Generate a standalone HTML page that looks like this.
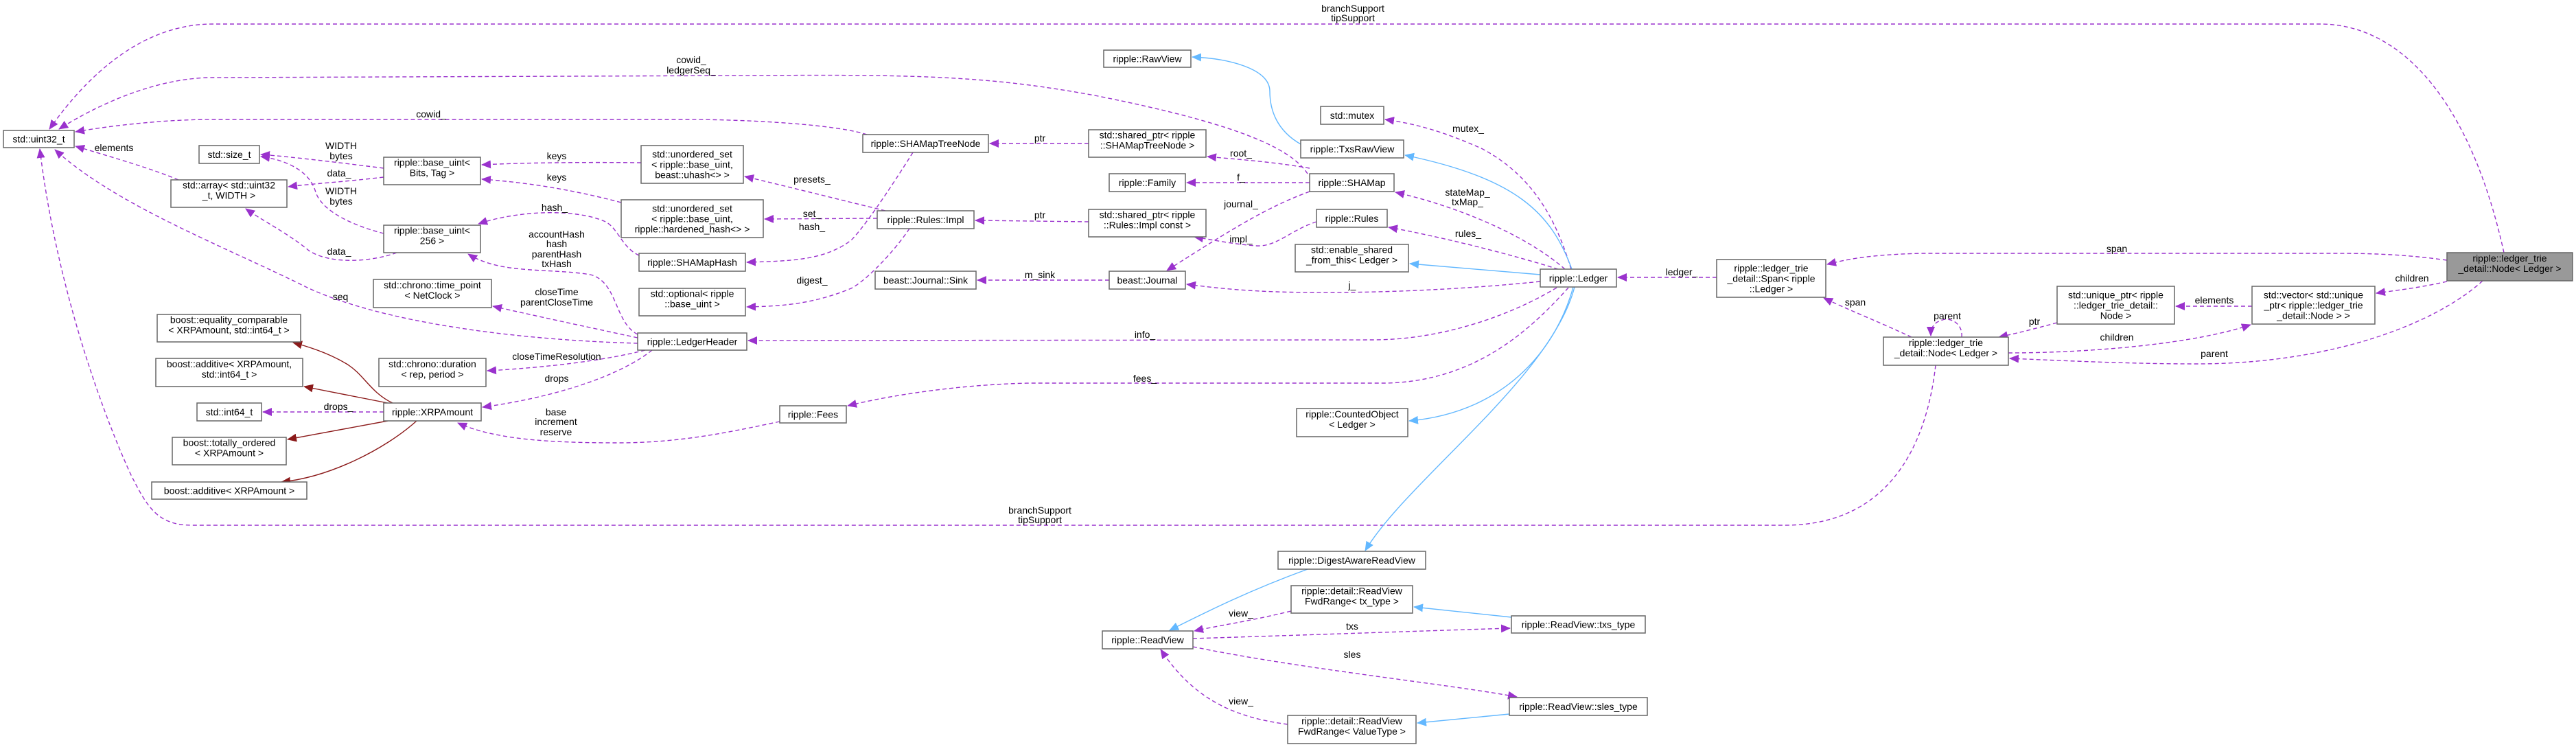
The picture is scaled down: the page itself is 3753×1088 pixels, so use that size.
<!DOCTYPE html>
<html><head><meta charset="utf-8"><style>
html,body{margin:0;padding:0;background:#fff;}
svg{display:block;}
text{font-family:"Liberation Sans",sans-serif;font-size:14px;fill:#000;text-anchor:middle;}
.n{fill:#fff;stroke:#666;stroke-width:1.5;}
.g{fill:#999;stroke:#666;stroke-width:1.5;}
.d{fill:none;stroke:#9a32cd;stroke-width:1.4;stroke-dasharray:6,4;marker-end:url(#mp);}
.b{fill:none;stroke:#63b8ff;stroke-width:1.4;marker-end:url(#mb);}
.r{fill:none;stroke:#8b1a1a;stroke-width:1.4;marker-end:url(#mr);}
</style></head><body>
<svg width="3753" height="1088" viewBox="0 0 3753 1088" xmlns="http://www.w3.org/2000/svg">
<defs>
<marker id="mp" markerUnits="userSpaceOnUse" markerWidth="14" markerHeight="12" refX="13" refY="6" orient="auto"><path d="M0,0 L14,6 L0,12 z" fill="#9a32cd"/></marker>
<marker id="mb" markerUnits="userSpaceOnUse" markerWidth="14" markerHeight="12" refX="13" refY="6" orient="auto"><path d="M0,0 L14,6 L0,12 z" fill="#63b8ff"/></marker>
<marker id="mr" markerUnits="userSpaceOnUse" markerWidth="14" markerHeight="12" refX="13" refY="6" orient="auto"><path d="M0,0 L14,6 L0,12 z" fill="#8b1a1a"/></marker>
</defs>

<!-- edges -->
<path class="d" d="M3648,368 C3600,150 3500,35 3380,35 L310,35 C200,35 120,120 72,188"/>
<path class="d" d="M1905,253 C1880,215 1800,180 1600,140 C1450,112 1350,108 1100,110 L310,113 C220,113 130,160 86,188"/>
<path class="d" d="M1263,196 C1220,182 1100,174 1000,174 L310,174 C230,174 150,185 110,192"/>
<path class="d" d="M260,262 C220,245 150,225 110,213"/>
<path class="d" d="M559,245 C480,235 420,228 380,225"/>
<path class="d" d="M559,258 C500,265 450,268 420,272"/>
<path class="d" d="M559,340 C520,330 470,310 460,280 C450,245 410,232 380,228"/>
<path class="d" d="M578,368 C540,382 480,385 450,365 C420,340 380,320 358,304"/>
<path class="d" d="M929,500 C750,495 560,470 450,420 C330,360 170,300 80,218"/>
<path class="d" d="M934,237 C850,236 760,237 702,240"/>
<path class="d" d="M905,295 C830,275 760,265 702,261"/>
<path class="d" d="M931,372 C905,360 900,330 880,322 C840,305 760,305 697,326"/>
<path class="d" d="M929,487 C895,470 900,410 860,400 C800,390 730,400 682,370"/>
<path class="d" d="M929,492 C850,475 780,460 718,446"/>
<path class="d" d="M940,510 C880,525 800,535 710,540"/>
<path class="d" d="M950,510 C900,550 800,580 703,593"/>
<path class="d" d="M1136,614 C1060,630 990,645 900,645 C800,645 720,640 667,616"/>
<path class="d" d="M559,600 L383,600"/>
<path class="d" d="M1290,307 C1200,285 1140,270 1085,257"/>
<path class="d" d="M1278,318 L1114,319"/>
<path class="d" d="M1330,222 C1300,270 1260,330 1240,350 C1200,380 1150,380 1088,382"/>
<path class="d" d="M1325,333 C1300,370 1260,410 1240,420 C1180,445 1130,446 1088,447"/>
<path class="d" d="M1586,209 L1442,209"/>
<path class="d" d="M1586,323 L1421,321"/>
<path class="d" d="M1616,408 L1424,408"/>
<path class="d" d="M1908,245 C1850,235 1800,232 1759,228"/>
<path class="d" d="M1908,266 L1729,266"/>
<path class="d" d="M1908,279 C1850,300 1800,330 1700,394"/>
<path class="d" d="M1918,323 C1880,335 1860,360 1830,358 C1800,356 1770,350 1740,345"/>
<path class="d" d="M2244,410 C2100,425 1950,428 1860,425 C1800,423 1760,418 1729,414"/>
<path class="d" d="M2268,419 C2200,460 2100,495 2000,495 L1090,496"/>
<path class="d" d="M2285,419 C2230,480 2150,555 2020,558 L1500,558 C1400,560 1300,575 1235,591"/>
<path class="d" d="M2289,392 C2270,330 2240,260 2160,217 C2100,190 2060,180 2018,174"/>
<path class="d" d="M2280,392 C2220,340 2120,300 2033,280"/>
<path class="d" d="M2270,392 C2200,370 2100,345 2023,331"/>
<path class="d" d="M1881,890 C1820,905 1770,912 1740,919"/>
<path class="d" d="M1738,930 C1900,925 2100,918 2200,915"/>
<path class="d" d="M1738,942 C1900,975 2100,995 2210,1015"/>
<path class="d" d="M1876,1055 C1800,1045 1740,1020 1691,946"/>
<path class="d" d="M2501,404 L2357,404"/>
<path class="d" d="M2785,491 C2740,470 2690,450 2657,434"/>
<path class="d" d="M3565,379 C3500,370 3450,369 3400,369 L2800,369 C2720,371 2690,378 2662,385"/>
<path class="d" d="M3565,410 C3520,420 3490,423 3462,427"/>
<path class="d" d="M3281,446 L3170,446"/>
<path class="d" d="M2997,470 C2960,480 2940,485 2912,491"/>
<path class="d" d="M2926,514 C3050,514 3200,500 3279,473"/>
<path class="d" d="M3617,409 C3550,470 3400,530 3200,530 C3100,530 3000,525 2928,522"/>
<path class="d" d="M2858,491 C2860,470 2840,462 2830,466 C2815,470 2813,480 2813,489"/>
<path class="d" d="M2820,532 C2810,620 2770,765 2600,765 L280,765 C230,765 215,740 190,690 C140,580 80,400 58,217"/>

<path class="b" d="M2290,392 C2260,310 2210,260 2047,226"/>
<path class="b" d="M2244,400 L2054,384"/>
<path class="b" d="M2292,418 C2270,500 2200,600 2053,613"/>
<path class="b" d="M2294,418 C2260,550 2050,700 1989,802"/>
<path class="b" d="M1895,210 C1860,190 1850,160 1850,133 C1850,100 1790,85 1737,83"/>
<path class="b" d="M1905,829 C1820,860 1760,890 1704,918"/>
<path class="b" d="M2202,899 L2060,884"/>
<path class="b" d="M2199,1040 L2065,1053"/>

<path class="r" d="M572,587 C540,572 530,545 505,530 C480,515 450,505 427,499"/>
<path class="r" d="M565,587 L443,563"/>
<path class="r" d="M565,613 L419,640"/>
<path class="r" d="M607,613 C560,655 480,695 410,702"/>

<!-- edge labels -->
<text x="1971" y="17">branchSupport</text><text x="1971" y="31">tipSupport</text>
<text x="1007" y="92">cowid_</text><text x="1007" y="107">ledgerSeq_</text>
<text x="628" y="171">cowid_</text>
<text x="166" y="220">elements</text>
<text x="497" y="217">WIDTH</text><text x="497" y="232">bytes</text>
<text x="494" y="257">data_</text>
<text x="497" y="283">WIDTH</text><text x="497" y="298">bytes</text>
<text x="494" y="371">data_</text>
<text x="496" y="437">seq</text>
<text x="811" y="232">keys</text>
<text x="811" y="263">keys</text>
<text x="808" y="307">hash_</text>
<text x="811" y="346">accountHash</text><text x="811" y="360">hash</text><text x="811" y="375">parentHash</text><text x="811" y="389">txHash</text>
<text x="811" y="430">closeTime</text><text x="811" y="445">parentCloseTime</text>
<text x="811" y="524">closeTimeResolution</text>
<text x="811" y="556">drops</text>
<text x="810" y="605">base</text><text x="810" y="619">increment</text><text x="810" y="634">reserve</text>
<text x="493" y="597">drops_</text>
<text x="1183" y="266">presets_</text>
<text x="1183" y="316">set_</text>
<text x="1183" y="335">hash_</text>
<text x="1183" y="413">digest_</text>
<text x="1515" y="206">ptr</text>
<text x="1515" y="318">ptr</text>
<text x="1515" y="405">m_sink</text>
<text x="1808" y="228">root_</text>
<text x="1808" y="263">f_</text>
<text x="1808" y="302">journal_</text>
<text x="1808" y="353">impl_</text>
<text x="1970" y="420">j_</text>
<text x="1668" y="492">info_</text>
<text x="1668" y="556">fees_</text>
<text x="2139" y="192">mutex_</text>
<text x="2138" y="285">stateMap_</text><text x="2138" y="299">txMap_</text>
<text x="2139" y="345">rules_</text>
<text x="1808" y="898">view_</text>
<text x="1970" y="917">txs</text>
<text x="1970" y="958">sles</text>
<text x="1808" y="1026">view_</text>
<text x="2450" y="401">ledger_</text>
<text x="2703" y="445">span</text>
<text x="3084" y="367">span</text>
<text x="3514" y="410">children</text>
<text x="3226" y="442">elements</text>
<text x="2964" y="473">ptr</text>
<text x="3084" y="496">children</text>
<text x="3226" y="520">parent</text>
<text x="2837" y="465">parent</text>
<text x="1515" y="748">branchSupport</text><text x="1515" y="762">tipSupport</text>

<!-- nodes -->
<rect class="n" x="5" y="190" width="103" height="25"/><text x="56.5" y="207.5">std::uint32_t</text>
<rect class="n" x="290" y="212" width="88" height="26"/><text x="334" y="230">std::size_t</text>
<rect class="n" x="559" y="229" width="141" height="40"/><text x="629.5" y="241.5">ripple::base_uint&lt;</text><text x="629.5" y="256.5">Bits, Tag &gt;</text>
<rect class="n" x="249" y="262" width="169" height="40"/><text x="333.5" y="274.5">std::array&lt; std::uint32</text><text x="333.5" y="289.5">_t, WIDTH &gt;</text>
<rect class="n" x="559" y="328" width="141" height="40"/><text x="629.5" y="340.5">ripple::base_uint&lt;</text><text x="629.5" y="355.5">256 &gt;</text>
<rect class="n" x="544" y="407" width="172" height="41"/><text x="630" y="420">std::chrono::time_point</text><text x="630" y="435">&lt; NetClock &gt;</text>
<rect class="n" x="229" y="458" width="209" height="40"/><text x="333.5" y="470.5">boost::equality_comparable</text><text x="333.5" y="485.5">&lt; XRPAmount, std::int64_t &gt;</text>
<rect class="n" x="227" y="522" width="214" height="41"/><text x="334" y="535">boost::additive&lt; XRPAmount,</text><text x="334" y="550">std::int64_t &gt;</text>
<rect class="n" x="552" y="522" width="156" height="41"/><text x="630" y="535">std::chrono::duration</text><text x="630" y="550">&lt; rep, period &gt;</text>
<rect class="n" x="287" y="587" width="94" height="26"/><text x="334" y="605">std::int64_t</text>
<rect class="n" x="559" y="587" width="142" height="26"/><text x="630" y="605">ripple::XRPAmount</text>
<rect class="n" x="251" y="637" width="166" height="40"/><text x="334" y="649.5">boost::totally_ordered</text><text x="334" y="664.5">&lt; XRPAmount &gt;</text>
<rect class="n" x="221" y="702" width="226" height="25"/><text x="334" y="719.5">boost::additive&lt; XRPAmount &gt;</text>
<rect class="n" x="1608" y="73" width="127" height="25"/><text x="1671.5" y="90.5">ripple::RawView</text>
<rect class="n" x="1257" y="196" width="183" height="26"/><text x="1348.5" y="214">ripple::SHAMapTreeNode</text>
<rect class="n" x="1586" y="189" width="171" height="40"/><text x="1671.5" y="201.5">std::shared_ptr&lt; ripple</text><text x="1671.5" y="216.5">::SHAMapTreeNode &gt;</text>
<rect class="n" x="934" y="212" width="149" height="55"/><text x="1008.5" y="229.5">std::unordered_set</text><text x="1008.5" y="244.5">&lt; ripple::base_uint,</text><text x="1008.5" y="259.5">beast::uhash&lt;&gt; &gt;</text>
<rect class="n" x="1616" y="253" width="111" height="26"/><text x="1671.5" y="271">ripple::Family</text>
<rect class="n" x="905" y="291" width="207" height="55"/><text x="1008.5" y="308.5">std::unordered_set</text><text x="1008.5" y="323.5">&lt; ripple::base_uint,</text><text x="1008.5" y="338.5">ripple::hardened_hash&lt;&gt; &gt;</text>
<rect class="n" x="1278" y="307" width="141" height="26"/><text x="1348.5" y="325">ripple::Rules::Impl</text>
<rect class="n" x="1586" y="305" width="171" height="40"/><text x="1671.5" y="317.5">std::shared_ptr&lt; ripple</text><text x="1671.5" y="332.5">::Rules::Impl const &gt;</text>
<rect class="n" x="931" y="369" width="155" height="26"/><text x="1008.5" y="387">ripple::SHAMapHash</text>
<rect class="n" x="1275" y="395" width="147" height="26"/><text x="1348.5" y="413">beast::Journal::Sink</text>
<rect class="n" x="1616" y="395" width="111" height="26"/><text x="1671.5" y="413">beast::Journal</text>
<rect class="n" x="931" y="420" width="155" height="40"/><text x="1008.5" y="432.5">std::optional&lt; ripple</text><text x="1008.5" y="447.5">::base_uint &gt;</text>
<rect class="n" x="929" y="485" width="159" height="25"/><text x="1008.5" y="502.5">ripple::LedgerHeader</text>
<rect class="n" x="1136" y="591" width="97" height="25"/><text x="1184.5" y="608.5">ripple::Fees</text>
<rect class="n" x="1606" y="919" width="132" height="26"/><text x="1672" y="937">ripple::ReadView</text>
<rect class="n" x="1924" y="155" width="92" height="26"/><text x="1970" y="173">std::mutex</text>
<rect class="n" x="1895" y="204" width="150" height="26"/><text x="1970" y="222">ripple::TxsRawView</text>
<rect class="n" x="1908" y="253" width="123" height="26"/><text x="1969.5" y="271">ripple::SHAMap</text>
<rect class="n" x="1918" y="305" width="103" height="26"/><text x="1969.5" y="323">ripple::Rules</text>
<rect class="n" x="1887" y="356" width="165" height="40"/><text x="1969.5" y="368.5">std::enable_shared</text><text x="1969.5" y="383.5">_from_this&lt; Ledger &gt;</text>
<rect class="n" x="2244" y="392" width="111" height="26"/><text x="2299.5" y="410">ripple::Ledger</text>
<rect class="n" x="2501" y="378" width="159" height="55"/><text x="2580.5" y="395.5">ripple::ledger_trie</text><text x="2580.5" y="410.5">_detail::Span&lt; ripple</text><text x="2580.5" y="425.5">::Ledger &gt;</text>
<rect class="n" x="2744" y="491" width="182" height="41"/><text x="2835" y="504">ripple::ledger_trie</text><text x="2835" y="519">_detail::Node&lt; Ledger &gt;</text>
<rect class="n" x="1889" y="595" width="162" height="41"/><text x="1970" y="608">ripple::CountedObject</text><text x="1970" y="623">&lt; Ledger &gt;</text>
<rect class="n" x="1862" y="803" width="215" height="26"/><text x="1969.5" y="821">ripple::DigestAwareReadView</text>
<rect class="n" x="1881" y="853" width="177" height="40"/><text x="1969.5" y="865.5">ripple::detail::ReadView</text><text x="1969.5" y="880.5">FwdRange&lt; tx_type &gt;</text>
<rect class="n" x="2202" y="897" width="195" height="25"/><text x="2299.5" y="914.5">ripple::ReadView::txs_type</text>
<rect class="n" x="2199" y="1016" width="201" height="26"/><text x="2299.5" y="1034">ripple::ReadView::sles_type</text>
<rect class="n" x="1876" y="1042" width="187" height="41"/><text x="1969.5" y="1055">ripple::detail::ReadView</text><text x="1969.5" y="1070">FwdRange&lt; ValueType &gt;</text>
<rect class="g" x="3565" y="368" width="183" height="41"/><text x="3656.5" y="381">ripple::ledger_trie</text><text x="3656.5" y="396">_detail::Node&lt; Ledger &gt;</text>
<rect class="n" x="2997" y="417" width="171" height="55"/><text x="3082.5" y="434.5">std::unique_ptr&lt; ripple</text><text x="3082.5" y="449.5">::ledger_trie_detail::</text><text x="3082.5" y="464.5">Node &gt;</text>
<rect class="n" x="3281" y="417" width="179" height="55"/><text x="3370.5" y="434.5">std::vector&lt; std::unique</text><text x="3370.5" y="449.5">_ptr&lt; ripple::ledger_trie</text><text x="3370.5" y="464.5">_detail::Node &gt; &gt;</text>
</svg>
</body></html>
